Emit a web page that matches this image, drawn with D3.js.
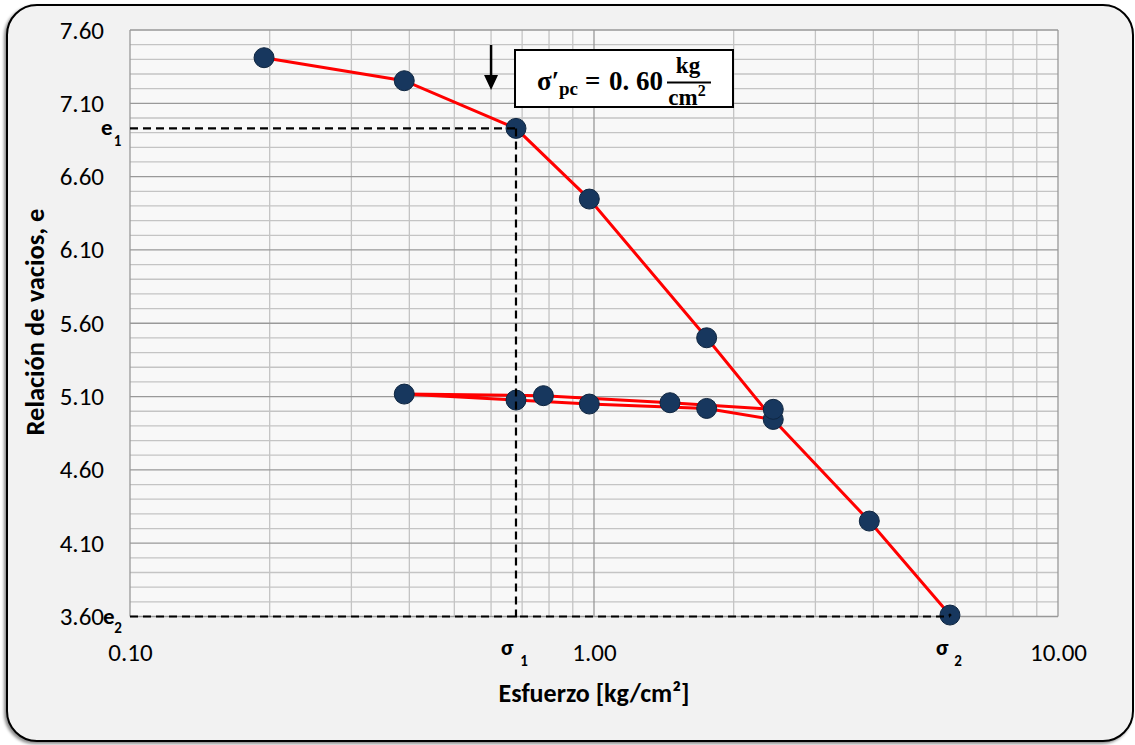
<!DOCTYPE html>
<html><head><meta charset="utf-8">
<script src="https://cdn.jsdelivr.net/npm/d3@7"></script>
<style>
html,body{margin:0;padding:0;background:#fff;}
svg{display:block;}
.tick text{font-family:Carlito,Calibri,Lato,sans-serif;fill:#000;}
</style></head>
<body><svg id="c" width="1135" height="745"></svg>
<script>
// ---- data ----
const loadStress = [0.1945, 0.39, 0.679, 0.977, 1.749, 2.434, 3.92, 5.85];
const loadVoid   = [7.411, 7.254, 6.929, 6.447, 5.501, 4.944, 4.251, 3.610];
const cycleStress = [2.434, 1.458, 0.778, 0.39, 0.679, 0.977, 1.749, 2.434];
const cycleVoid   = [5.013, 5.058, 5.106, 5.117, 5.076, 5.049, 5.019, 4.944];
const yTicks = [3.60, 4.10, 4.60, 5.10, 5.60, 6.10, 6.60, 7.10, 7.60];
const xTicks = [0.10, 1.00, 10.00];
const sigma1 = 0.679, e1 = 6.929, sigma2 = 5.85, e2 = 3.60;
const sigmaPc = 0.60;

const svg = d3.select("#c");
const L = 130, R = 1058, T = 30, B = 616.5;
const x = d3.scaleLog().domain([0.1, 10]).range([L, R]);
const y = d3.scaleLinear().domain([3.6, 7.6]).range([B, T]);
const font = "Carlito,Calibri,Lato,sans-serif";

// shadow filter
const defs = svg.append("defs");
const f = defs.append("filter").attr("id","sh").attr("x","-5%").attr("y","-5%").attr("width","110%").attr("height","110%");
f.append("feDropShadow").attr("dx",-2).attr("dy",2).attr("stdDeviation",1.5).attr("flood-color","#000").attr("flood-opacity",0.45);

// outer chart area
svg.append("rect").attr("x",7).attr("y",5).attr("width",1126).attr("height",736)
  .attr("rx",30).attr("fill","#f2f2f2").attr("stroke","#000").attr("stroke-width",2).attr("filter","url(#sh)");

// plot background
svg.append("rect").attr("x",L).attr("y",T).attr("width",R-L).attr("height",B-T).attr("fill","#f8f8f8");

// grid
const g = svg.append("g");
const minorY = d3.range(36, 77).map(v => v/10).filter(v => !yTicks.some(t => Math.abs(t-v) < 1e-6));
g.selectAll(".hy").data(minorY).join("line")
  .attr("x1",L).attr("x2",R).attr("y1",d=>y(d)).attr("y2",d=>y(d))
  .attr("stroke","#c4c4c4").attr("stroke-width",1.3);
const minorX = [];
[0.1, 1].forEach(dec => { for (let k=2;k<=9;k++) minorX.push(k*dec); });
g.selectAll(".vx").data(minorX).join("line")
  .attr("x1",d=>x(d)).attr("x2",d=>x(d)).attr("y1",T).attr("y2",B)
  .attr("stroke","#c4c4c4").attr("stroke-width",1.3);
g.selectAll(".hmy").data(yTicks).join("line")
  .attr("x1",L).attr("x2",R).attr("y1",d=>y(d)).attr("y2",d=>y(d))
  .attr("stroke","#999").attr("stroke-width",1.3);
g.selectAll(".vmx").data(xTicks).join("line")
  .attr("x1",d=>x(d)).attr("x2",d=>x(d)).attr("y1",T).attr("y2",B)
  .attr("stroke","#999").attr("stroke-width",1.3);

// axes (labels only)
const ya = svg.append("g").attr("transform",`translate(${L},0)`)
  .call(d3.axisLeft(y).tickValues(yTicks).tickFormat(d3.format(".2f")).tickSize(0).tickPadding(26));
ya.select(".domain").remove();
ya.selectAll("text").attr("font-size",25);
const xa = svg.append("g").attr("transform",`translate(0,${B})`)
  .call(d3.axisBottom(x).tickValues(xTicks).tickFormat(d3.format(".2f")).tickSize(0).tickPadding(27));
xa.select(".domain").remove();
xa.selectAll("text").attr("font-size",25);

// axis titles
svg.append("text").attr("x",594).attr("y",702).attr("text-anchor","middle")
  .attr("font-family",font).attr("font-weight","bold").attr("font-size",26).text("Esfuerzo [kg/cm²]");
svg.append("text").attr("transform","translate(44,322) rotate(-90)").attr("text-anchor","middle")
  .attr("font-family",font).attr("font-weight","bold").attr("font-size",26.5).text("Relación de vacios, e");

// series lines
const line = d3.line().x(d=>x(d[0])).y(d=>y(d[1]));
const loadPts = loadStress.map((s,i)=>[s, loadVoid[i]]);
const cyclePts = cycleStress.map((s,i)=>[s, cycleVoid[i]]);
svg.append("path").datum(cyclePts).attr("d",line).attr("fill","none").attr("stroke","#ff0000").attr("stroke-width",3);
svg.append("path").datum(loadPts).attr("d",line).attr("fill","none").attr("stroke","#ff0000").attr("stroke-width",3);

// markers
const allPts = loadPts.concat(cyclePts.slice(0, cyclePts.length-1));
svg.selectAll(".pt").data(allPts).join("circle")
  .attr("cx",d=>x(d[0])).attr("cy",d=>y(d[1])).attr("r",10)
  .attr("fill","#17375e").attr("stroke","#0e2540").attr("stroke-width",1);

// dashed construction lines
const dash = {stroke:"#000","stroke-width":2.2,"stroke-dasharray":"8,5"};
function dl(x1,y1,x2,y2){ const l=svg.append("line").attr("x1",x1).attr("y1",y1).attr("x2",x2).attr("y2",y2).attr("fill","none");
  Object.entries(dash).forEach(([k,v])=>l.attr(k,v)); return l; }
dl(L, y(e1), x(sigma1), y(e1));
dl(x(sigma1), y(e1), x(sigma1), B+3);
dl(L, y(e2), x(sigma2), y(e2));
svg.append("circle").attr("cx",x(sigma2)).attr("cy",y(3.61)).attr("r",1.5).attr("fill","#000");

// e / sigma labels
function sublabel(xm, ym, main, sub, xs, ys){
  svg.append("text").attr("x",xm).attr("y",ym).attr("font-family",font).attr("font-weight","bold").attr("font-size",23).text(main);
  svg.append("text").attr("x",xs).attr("y",ys).attr("text-anchor","middle").attr("font-family",font).attr("font-weight","bold").attr("font-size",15).text(sub);
}
sublabel(101, 135, "e", "1", 117.5, 146);
sublabel(103, 624, "e", "2", 118, 633);
sublabel(501, 655, "σ", "1", 524, 666);
sublabel(936, 655, "σ", "2", 958, 666);

// arrow at sigma'pc
const ax = x(sigmaPc);
svg.append("line").attr("x1",ax).attr("x2",ax).attr("y1",45).attr("y2",78).attr("stroke","#000").attr("stroke-width",2.5);
svg.append("path").attr("d",`M${ax-7},75 L${ax+7},75 L${ax},90 Z`).attr("fill","#000");

// annotation box
svg.append("rect").attr("x",515).attr("y",50).attr("width",218).attr("height",57)
  .attr("fill","#fff").attr("stroke","#000").attr("stroke-width",2);
const sf = "'Liberation Serif',serif";
svg.append("text").attr("x",537).attr("y",90).attr("font-family",sf).attr("font-weight","bold").attr("font-size",27).text("σ′");
svg.append("text").attr("x",559).attr("y",95).attr("font-family",sf).attr("font-weight","bold").attr("font-size",19).text("pc");
svg.append("text").attr("x",585).attr("y",90).attr("font-family",sf).attr("font-weight","bold").attr("font-size",27).text("=");
svg.append("text").attr("x",609).attr("y",90).attr("font-family",sf).attr("font-weight","bold").attr("font-size",27).text("0. 60");
svg.append("text").attr("x",688).attr("y",73).attr("text-anchor","middle").attr("font-family",sf).attr("font-weight","bold").attr("font-size",23).text("kg");
svg.append("line").attr("x1",667).attr("x2",711).attr("y1",82.5).attr("y2",82.5).attr("stroke","#000").attr("stroke-width",2);
const cm = svg.append("text").attr("x",687).attr("y",105).attr("text-anchor","middle").attr("font-family",sf).attr("font-weight","bold").attr("font-size",23);
cm.append("tspan").text("cm");
cm.append("tspan").attr("font-size",16).attr("dy",-9).text("2");
</script></body></html>
